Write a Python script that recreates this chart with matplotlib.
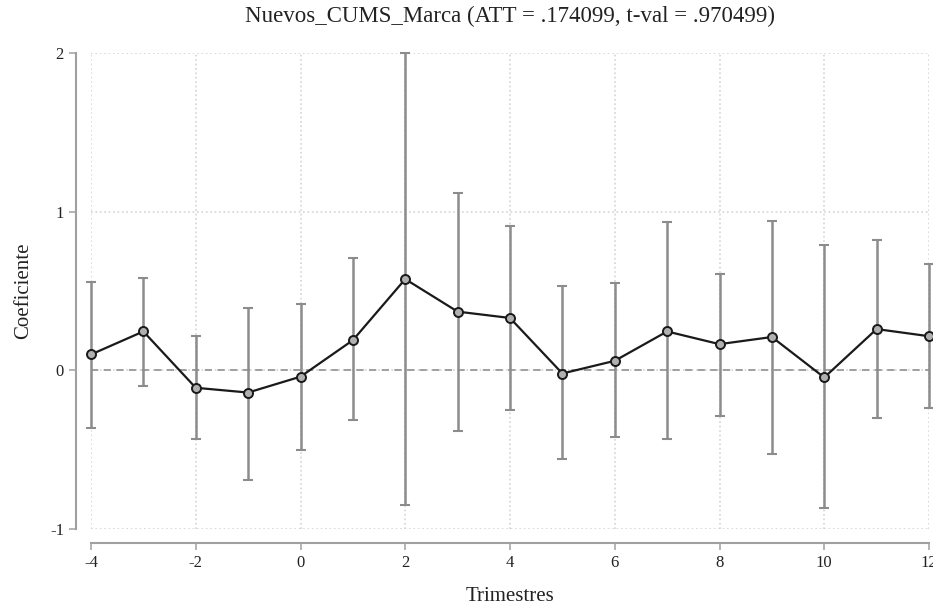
import matplotlib.pyplot as plt
import numpy as np

trimestres = [-4, -3, -2, -1, 0, 1, 2, 3, 4, 5, 6, 7, 8, 9, 10, 11, 12]
coef = [0.10, 0.245, -0.11, -0.14, -0.04, 0.19, 0.575, 0.37, 0.33, -0.02, 0.06, 0.245, 0.165, 0.21, -0.045, 0.26, 0.215]
ci_hi = [0.555, 0.58, 0.215, 0.39, 0.42, 0.705, 2.0, 1.12, 0.91, 0.53, 0.55, 0.935, 0.61, 0.94, 0.79, 0.82, 0.67]
ci_lo = [-0.365, -0.10, -0.435, -0.69, -0.50, -0.315, -0.85, -0.38, -0.25, -0.56, -0.42, -0.435, -0.285, -0.53, -0.87, -0.30, -0.235]
xticks = [-4, -2, 0, 2, 4, 6, 8, 10, 12]
yticks = [-1, 0, 1, 2]

plt.rcParams['font.family'] = ['Liberation Serif', 'DejaVu Serif']

fig = plt.figure(figsize=(9.33, 6.09), dpi=100)
ax = fig.add_axes([91/933, 1 - 529/609, (929 - 91)/933, (529 - 53)/609])

x = np.array(trimestres)
y = np.array(coef)
lo = y - np.array(ci_lo)
hi = np.array(ci_hi) - y

ax.axhline(0, color='#999999', lw=1.3, ls=(0, (4, 3)), zorder=1)
ax.errorbar(x, y, yerr=[lo, hi], fmt='none', ecolor='#8c8c8c', elinewidth=1.8,
            capsize=3.5, capthick=1.5, zorder=2, clip_on=False)
ax.plot(x, y, color='#1a1a1a', lw=1.6, marker='o', ms=6.5, mfc='#b0b0b0',
        mec='#1a1a1a', mew=1.4, zorder=3, clip_on=False)

ax.set_xlim(-4, 12)
ax.set_ylim(-1, 2)
ax.set_xticks(xticks)
ax.set_yticks(yticks)
ax.set_xticklabels([str(t) for t in xticks])
ax.set_yticklabels([str(t) for t in yticks])

ax.grid(True, color='#d4d4d4', ls=':', lw=1.2)
ax.set_axisbelow(True)

for s in ['top', 'right']:
    ax.spines[s].set_visible(False)
ax.spines['left'].set_position(('outward', 11))
ax.spines['bottom'].set_position(('outward', 10))
ax.spines['left'].set_color('#a0a0a0')
ax.spines['bottom'].set_color('#a0a0a0')
ax.spines['left'].set_linewidth(1.5)
ax.spines['bottom'].set_linewidth(1.5)
ax.tick_params(axis='both', colors='#a0a0a0', labelcolor='#222222', labelsize=12,
               length=5, width=1.1)

ax.set_xlabel('Trimestres', fontsize=15, color='#222222', labelpad=12)
ax.set_ylabel('Coeficiente', fontsize=15, color='#222222', labelpad=12)
ax.set_title('Nuevos_CUMS_Marca (ATT = .174099, t-val = .970499)', fontsize=16.5,
             color='#222222', pad=22)

fig.savefig('out.png', dpi=100)
